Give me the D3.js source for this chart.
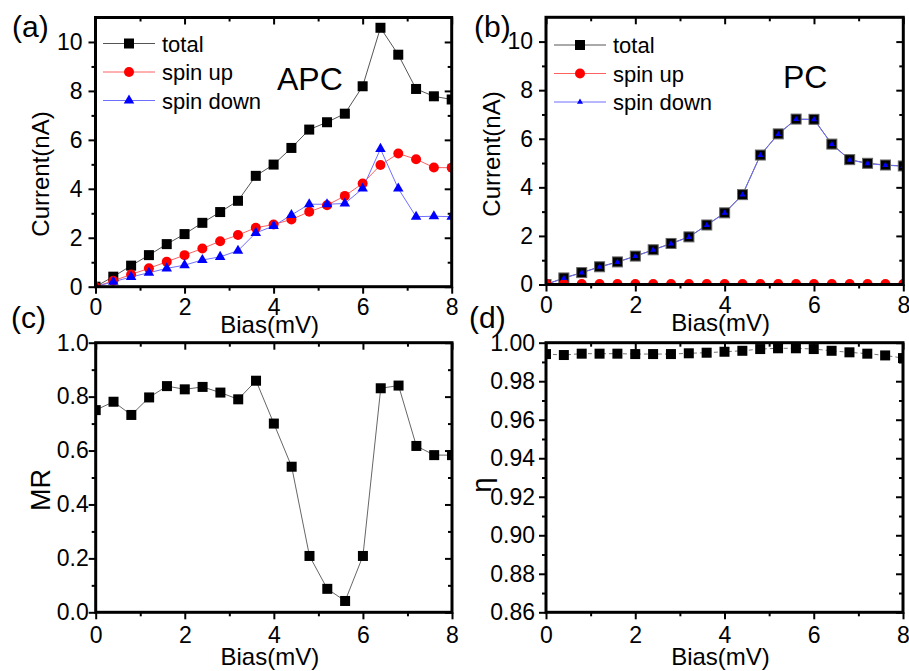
<!DOCTYPE html>
<html>
<head>
<meta charset="utf-8">
<script src="https://cdnjs.cloudflare.com/ajax/libs/d3/7.8.5/d3.min.js"></script>
<style>
  body { margin: 0; background: #fff; }
  svg { display: block; font-family: "Liberation Sans", Arial, sans-serif; }
</style>
</head>
<body>
<div id="chart"></div>
<script>
// data, bias in mV
var bias = [0, 0.4, 0.8, 1.2, 1.6, 2.0, 2.4, 2.8, 3.2, 3.6, 4.0, 4.4, 4.8, 5.2, 5.6, 6.0, 6.4, 6.8, 7.2, 7.6, 8.0];

var apcTotal = [0, 0.41, 0.86, 1.29, 1.74, 2.15, 2.61, 3.05, 3.51, 4.53, 4.99, 5.67, 6.42, 6.72, 7.07, 8.19, 10.58, 9.48, 8.08, 7.78, 7.65];
var apcUp = [0, 0.24, 0.5, 0.75, 1.02, 1.29, 1.56, 1.86, 2.11, 2.41, 2.54, 2.75, 3.06, 3.33, 3.71, 4.22, 4.97, 5.44, 5.21, 4.87, 4.86];
var apcDown = [0, 0.2, 0.4, 0.57, 0.75, 0.88, 1.09, 1.22, 1.47, 2.2, 2.48, 2.93, 3.37, 3.37, 3.4, 4.01, 5.63, 4.01, 2.86, 2.88, 2.86];

var pcTotal = [0, 0.27, 0.49, 0.73, 0.93, 1.17, 1.43, 1.69, 1.96, 2.45, 2.95, 3.7, 5.33, 6.2, 6.81, 6.8, 5.78, 5.14, 4.99, 4.92, 4.88];
var pcUp = [0.03, 0.02, 0.02, 0.02, 0.02, 0.02, 0.02, 0.02, 0.02, 0.02, 0.02, 0.02, 0.02, 0.02, 0.02, 0.02, 0.02, 0.02, 0.02, 0.02, 0.02];
var pcDown = [0, 0.26, 0.48, 0.72, 0.92, 1.16, 1.42, 1.68, 1.95, 2.44, 2.94, 3.69, 5.32, 6.19, 6.8, 6.79, 5.77, 5.13, 4.98, 4.91, 4.87];

var mr = [0.75, 0.781, 0.732, 0.797, 0.839, 0.827, 0.836, 0.815, 0.79, 0.859, 0.70, 0.54, 0.209, 0.087, 0.042, 0.209, 0.831, 0.841, 0.617, 0.583, 0.583];
var eta = [0.9941, 0.9936, 0.9943, 0.9943, 0.9943, 0.9941, 0.9941, 0.9941, 0.9945, 0.9948, 0.9953, 0.9958, 0.9967, 0.9971, 0.9971, 0.9967, 0.9958, 0.995, 0.9943, 0.9934, 0.992];

var xMajor = [0, 2, 4, 6, 8];
var xMinor = [1, 3, 5, 7];
var currentMajor = [0, 2, 4, 6, 8, 10];
var currentMinor = [1, 3, 5, 7, 9];
var mrMajor = [0, 0.2, 0.4, 0.6, 0.8, 1.0];
var mrMinor = [0.1, 0.3, 0.5, 0.7, 0.9];
var etaMajor = [0.86, 0.88, 0.90, 0.92, 0.94, 0.96, 0.98, 1.00];
var etaMinor = [0.87, 0.89, 0.91, 0.93, 0.95, 0.97, 0.99];

var svg = d3
  .select("#chart")
  .append("svg")
  .attr("width", 909)
  .attr("height", 671);

var tri = function(size) {
  return d3.symbol().type(d3.symbolTriangle).size(size)();
};

// one framed panel with origin-style ticks (out on bottom/left, in on top/right)
var makePanel = function(p) {
  var x = d3.scaleLinear().domain([0, 8]).range([p.left, p.right]);
  var y = d3.scaleLinear().domain(p.ydom).range([p.bottom, p.top]);
  var g = svg.append("g");

  g.append("clipPath")
    .attr("id", "clip" + p.id)
    .append("rect")
    .attr("x", p.left)
    .attr("y", p.top)
    .attr("width", p.right - p.left)
    .attr("height", p.bottom - p.top);

  var styleAxis = function(sel) {
    sel.select(".domain").remove();
    sel.selectAll("line").attr("stroke", "#000").attr("stroke-width", 2);
    sel.selectAll("text")
      .attr("fill", "#000")
      .style("font-size", "23px")
      .style("font-family", "'Liberation Sans', Arial, sans-serif");
  };

  // bottom
  g.append("g")
    .attr("transform", "translate(0," + p.bottom + ")")
    .call(d3.axisBottom(x).tickValues(xMinor).tickSize(4).tickFormat(""))
    .call(styleAxis);
  g.append("g")
    .attr("transform", "translate(0," + p.bottom + ")")
    .call(d3.axisBottom(x).tickValues(xMajor).tickSize(7).tickPadding(p.xPad).tickFormat(d3.format("d")))
    .call(styleAxis);
  // top
  g.append("g")
    .attr("transform", "translate(0," + p.top + ")")
    .call(d3.axisTop(x).tickValues(xMinor).tickSize(-4).tickFormat(""))
    .call(styleAxis);
  g.append("g")
    .attr("transform", "translate(0," + p.top + ")")
    .call(d3.axisTop(x).tickValues(xMajor).tickSize(-7).tickFormat(""))
    .call(styleAxis);
  // left
  g.append("g")
    .attr("transform", "translate(" + p.left + ",0)")
    .call(d3.axisLeft(y).tickValues(p.yMinor).tickSize(4).tickFormat(""))
    .call(styleAxis);
  g.append("g")
    .attr("transform", "translate(" + p.left + ",0)")
    .call(d3.axisLeft(y).tickValues(p.yMajor).tickSize(7).tickPadding(p.yPad).tickFormat(d3.format(p.fmt)))
    .call(styleAxis);
  // right
  g.append("g")
    .attr("transform", "translate(" + p.right + ",0)")
    .call(d3.axisRight(y).tickValues(p.yMinor).tickSize(-4).tickFormat(""))
    .call(styleAxis);
  g.append("g")
    .attr("transform", "translate(" + p.right + ",0)")
    .call(d3.axisRight(y).tickValues(p.yMajor).tickSize(-7).tickFormat(""))
    .call(styleAxis);

  var plot = g.append("g").attr("clip-path", "url(#clip" + p.id + ")");

  p.series.forEach(function(s) {
    var line = d3.line()
      .x(function(d, i) { return x(bias[i]); })
      .y(function(d) { return y(d); });
    plot.append("path")
      .datum(s.values)
      .attr("fill", "none")
      .attr("stroke", s.lineColor)
      .attr("stroke-width", 1)
      .attr("stroke-dasharray", s.dash || null)
      .attr("d", line);
  });

  p.series.forEach(function(s) {
    var pts = plot.selectAll(null).data(s.values).enter();
    if (s.marker === "square") {
      pts.append("rect")
        .attr("x", function(d, i) { return x(bias[i]) - s.size / 2; })
        .attr("y", function(d) { return y(d) - s.size / 2; })
        .attr("width", s.size)
        .attr("height", s.size)
        .attr("fill", s.color)
        .attr("stroke", s.stroke || "none")
        .attr("stroke-width", 1);
    } else if (s.marker === "circle") {
      pts.append("circle")
        .attr("cx", function(d, i) { return x(bias[i]); })
        .attr("cy", function(d) { return y(d); })
        .attr("r", s.size / 2)
        .attr("fill", s.color);
    } else {
      pts.append("path")
        .attr("transform", function(d, i) { return "translate(" + x(bias[i]) + "," + y(d) + ")"; })
        .attr("d", tri(s.size))
        .attr("fill", s.color);
    }
  });

  // frame
  g.append("rect")
    .attr("x", p.left)
    .attr("y", p.top)
    .attr("width", p.right - p.left)
    .attr("height", p.bottom - p.top)
    .attr("fill", "none")
    .attr("stroke", "#000")
    .attr("stroke-width", 3);

  // axis titles
  g.append("text")
    .attr("x", (p.left + p.right) / 2 + p.xTitleShift)
    .attr("y", p.bottom + p.xTitleOff)
    .attr("text-anchor", "middle")
    .style("font-size", "24px")
    .text("Bias(mV)");
  g.append("text")
    .attr("transform", "translate(" + p.yTitleX + "," + p.yTitleY + ") rotate(-90)")
    .attr("text-anchor", "middle")
    .style("font-size", p.yTitleSize)
    .text(p.yTitle);

  g.append("text")
    .attr("x", p.tagX)
    .attr("y", p.tagY)
    .style("font-size", "30px")
    .text(p.tag);

  if (p.legend) {
    p.series.forEach(function(s, i) {
      var ly = p.legend.y + i * p.legend.step;
      g.append("line")
        .attr("x1", p.legend.x - 26)
        .attr("x2", p.legend.x + 26)
        .attr("y1", ly)
        .attr("y2", ly)
        .attr("stroke", s.lineColor)
        .attr("stroke-width", 1);
      if (s.marker === "square") {
        g.append("rect")
          .attr("x", p.legend.x - s.size / 2)
          .attr("y", ly - s.size / 2)
          .attr("width", s.size)
          .attr("height", s.size)
          .attr("fill", s.color);
      } else if (s.marker === "circle") {
        g.append("circle")
          .attr("cx", p.legend.x)
          .attr("cy", ly)
          .attr("r", s.size / 2)
          .attr("fill", s.color);
      } else {
        g.append("path")
          .attr("transform", "translate(" + p.legend.x + "," + ly + ")")
          .attr("d", tri(s.size))
          .attr("fill", s.color);
      }
      g.append("text")
        .attr("x", p.legend.x + 33)
        .attr("y", ly + 8)
        .style("font-size", "22px")
        .text(s.name);
    });
  }

  if (p.note) {
    g.append("text")
      .attr("x", p.note.x)
      .attr("y", p.note.y)
      .style("font-size", "32px")
      .text(p.note.text);
  }
};

makePanel({
  id: "a", tag: "(a)", tagX: 12, tagY: 37,
  left: 95.5, right: 451.7, top: 17.5, bottom: 286.7,
  ydom: [0, 11], yMajor: currentMajor, yMinor: currentMinor, fmt: "d",
  xPad: 5, yPad: 6, xTitleOff: 46, xTitleShift: -4,
  yTitle: "Current(nA)", yTitleX: 49, yTitleY: 174, yTitleSize: "24px",
  legend: { x: 129, y: 43.5, step: 28.5 },
  note: { x: 277, y: 90, text: "APC" },
  series: [
    { name: "total", values: apcTotal, marker: "square", size: 10, color: "#000", lineColor: "#555" },
    { name: "spin up", values: apcUp, marker: "circle", size: 10, color: "#ff0000", lineColor: "#ff6060" },
    { name: "spin down", values: apcDown, marker: "triangle", size: 48, color: "#0000ff", lineColor: "#6f6fff" }
  ]
});

makePanel({
  id: "b", tag: "(b)", tagX: 474, tagY: 37,
  left: 546, right: 903.3, top: 17.3, bottom: 284.5,
  ydom: [0, 11], yMajor: currentMajor, yMinor: currentMinor, fmt: "d",
  xPad: 5, yPad: 6, xTitleOff: 46, xTitleShift: -4,
  yTitle: "Current(nA)", yTitleX: 500, yTitleY: 154, yTitleSize: "24px",
  legend: { x: 580, y: 45, step: 28.5 },
  note: { x: 783, y: 88, text: "PC" },
  series: [
    { name: "total", values: pcTotal, marker: "square", size: 10, color: "#000", stroke: "#666", lineColor: "#555" },
    { name: "spin up", values: pcUp, marker: "circle", size: 10, color: "#ff0000", lineColor: "#ff6060" },
    { name: "spin down", values: pcDown, marker: "triangle", size: 16, color: "#0000ff", lineColor: "#6f6fff" }
  ]
});

makePanel({
  id: "c", tag: "(c)", tagX: 11, tagY: 328,
  left: 95.7, right: 452, top: 342.7, bottom: 612.3,
  ydom: [0, 1], yMajor: mrMajor, yMinor: mrMinor, fmt: ".1f",
  xPad: 7, yPad: 0, xTitleOff: 53, xTitleShift: -4,
  yTitle: "MR", yTitleX: 50, yTitleY: 490, yTitleSize: "27px",
  series: [
    { name: "MR", values: mr, marker: "square", size: 10, color: "#000", lineColor: "#666" }
  ]
});

makePanel({
  id: "d", tag: "(d)", tagX: 469, tagY: 328,
  left: 546, right: 903, top: 342.7, bottom: 612.3,
  ydom: [0.86, 1.0], yMajor: etaMajor, yMinor: etaMinor, fmt: ".2f",
  xPad: 7, yPad: 4, xTitleOff: 53, xTitleShift: -4,
  yTitle: "η", yTitleX: 491, yTitleY: 485, yTitleSize: "27px",
  series: [
    { name: "eta", values: eta, marker: "square", size: 10, color: "#000", lineColor: "#777", dash: "4,3" }
  ]
});
</script>
</body>
</html>
